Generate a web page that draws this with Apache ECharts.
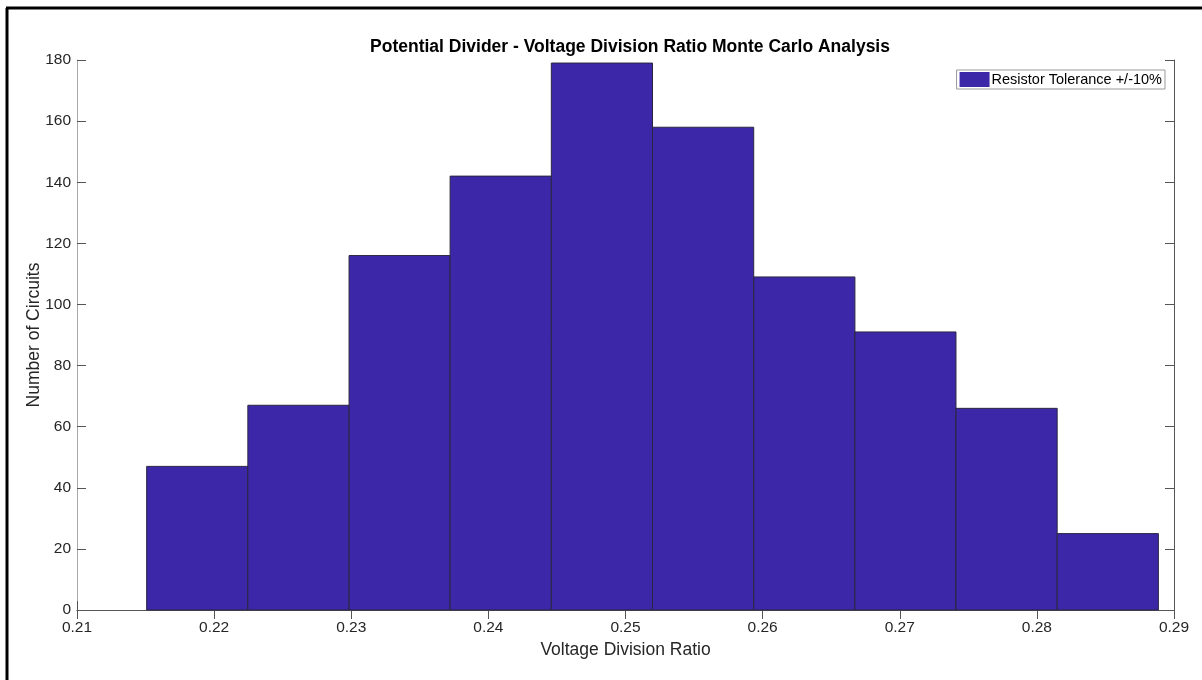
<!DOCTYPE html>
<html>
<head>
<meta charset="utf-8">
<script src="https://cdn.jsdelivr.net/npm/echarts@6/dist/echarts.min.js"></script>
<style>
  html, body { margin: 0; padding: 0; background: #fff; }
  #chart { width: 1202px; height: 680px; }
</style>
</head>
<body>
<div id="chart"></div>
<script>
// Histogram bin edges (voltage division ratio) and counts per bin
const binEdges = [0.21508, 0.22246, 0.22984, 0.23721, 0.24459, 0.25197,
                  0.25935, 0.26673, 0.27410, 0.28148, 0.28886];
const binCounts = [47, 67, 116, 142, 179, 158, 109, 91, 66, 25];
const seriesName = 'Resistor Tolerance +/-10%';
const xTicks = { min: 0.21, max: 0.29, step: 0.01 };
const yTicks = { min: 0, max: 180, step: 20 };

const histData = binCounts.map((c, i) => [binEdges[i], binEdges[i + 1], c]);

const FONT = '"Liberation Sans", Arial, sans-serif';
const TXT = '#262626';
const BAR = '#3c27a8';

const chart = echarts.init(document.getElementById('chart'), null, { renderer: 'canvas' });

const tickInside = (color) => ({ show: true, inside: true, length: 9, lineStyle: { color: color, width: 1 } });

chart.setOption({
  animation: false,
  backgroundColor: '#fff',
  title: {
    text: 'Potential Divider - Voltage Division Ratio Monte Carlo Analysis',
    left: 625, top: 33, textAlign: 'center',
    textStyle: { fontFamily: FONT, fontSize: 17.5, fontWeight: 'bold', color: '#000' }
  },
  legend: {
    data: [{ name: seriesName, icon: 'rect' }],
    right: 37, top: 70,
    orient: 'vertical',
    backgroundColor: '#fff',
    borderColor: '#9a9a9a', borderWidth: 1,
    padding: [2, 3, 2, 3],
    itemWidth: 30, itemHeight: 15, itemGap: 0,
    textStyle: { fontFamily: FONT, fontSize: 14.5, color: '#000', padding: [0, 0, 0, -3] },
    selectedMode: false
  },
  grid: { left: 77, right: 28, top: 60, bottom: 70 },
  xAxis: [{
    type: 'value', position: 'bottom',
    min: xTicks.min, max: xTicks.max, interval: xTicks.step,
    name: 'Voltage Division Ratio', nameLocation: 'middle', nameGap: 31,
    nameTextStyle: { fontFamily: FONT, fontSize: 17.5, color: TXT },
    axisLine: { show: true, lineStyle: { color: '#a8a8a8', width: 1 } },
    axisTick: tickInside('#555'),
    axisLabel: { fontFamily: FONT, fontSize: 15.5, color: TXT, margin: 10,
      formatter: v => v.toFixed(2) },
    splitLine: { show: false }
  }, {
    type: 'value', position: 'top',
    min: xTicks.min, max: xTicks.max, interval: xTicks.step,
    axisLine: { show: true, lineStyle: { color: '#555', width: 1 } },
    axisTick: tickInside('#555'),
    axisLabel: { show: false },
    splitLine: { show: false }
  }],
  yAxis: [{
    type: 'value', position: 'left',
    min: yTicks.min, max: yTicks.max, interval: yTicks.step,
    name: 'Number of Circuits', nameLocation: 'middle', nameGap: 34,
    nameMoveOverlap: false,
    nameTextStyle: { fontFamily: FONT, fontSize: 17.5, color: TXT },
    axisLine: { show: true, lineStyle: { color: '#a8a8a8', width: 1 } },
    axisTick: tickInside('#555'),
    axisLabel: { fontFamily: FONT, fontSize: 15.5, color: TXT, margin: 6 },
    splitLine: { show: false }
  }, {
    type: 'value', position: 'right',
    min: yTicks.min, max: yTicks.max, interval: yTicks.step,
    axisLine: { show: true, lineStyle: { color: '#555', width: 1 } },
    axisTick: tickInside('#555'),
    axisLabel: { show: false },
    splitLine: { show: false }
  }],
  series: [{
    name: seriesName,
    type: 'custom',
    xAxisIndex: 0, yAxisIndex: 0,
    itemStyle: { color: BAR },
    encode: { x: [0, 1], y: 2 },
    data: histData,
    renderItem: function (params, api) {
      const p0 = api.coord([api.value(0), api.value(2)]);
      const p1 = api.coord([api.value(1), 0]);
      return {
        type: 'rect',
        shape: { x: p0[0], y: p0[1], width: p1[0] - p0[0], height: p1[1] - p0[1] },
        style: { fill: BAR, stroke: '#2b2640', lineWidth: 1 }
      };
    }
  }],
  graphic: [
    { type: 'line', shape: { x1: 7, y1: 8, x2: 7, y2: 680 }, style: { stroke: '#000', lineWidth: 3 } },
    { type: 'line', shape: { x1: 6, y1: 8, x2: 1202, y2: 8 }, style: { stroke: '#000', lineWidth: 3 } }
  ]
});
</script>
</body>
</html>
